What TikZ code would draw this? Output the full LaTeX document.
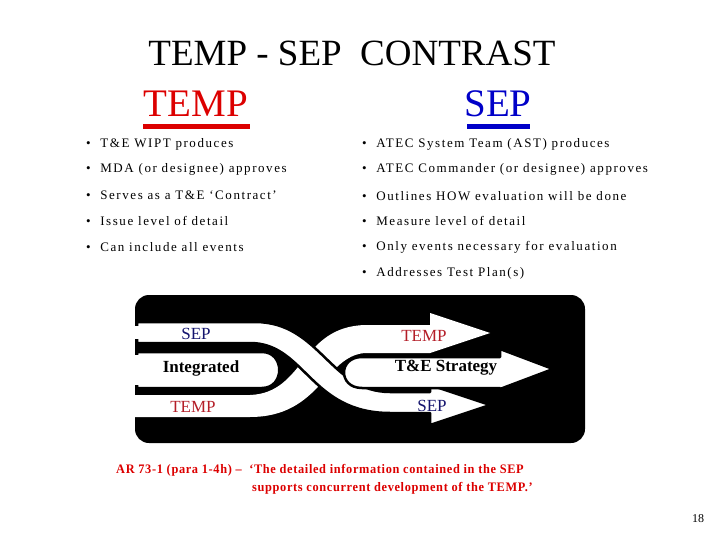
\documentclass[tikz,border=0pt]{standalone}
\usepackage{fontspec}
\setmainfont{Liberation Serif}
\newfontfamily\bulfont[LetterSpace=12]{Liberation Serif}
\newfontfamily\notefont[LetterSpace=5,FakeStretch=0.95]{Liberation Serif}
\definecolor{tred}{RGB}{220,0,0}
\definecolor{tblue}{RGB}{0,0,200}
\definecolor{dred}{RGB}{180,30,40}
\definecolor{dblue}{RGB}{20,20,110}
\begin{document}
\begin{tikzpicture}[x=1pt,y=-1pt,
  bul/.style={anchor=west,font=\bulfont\fontsize{13}{15}\selectfont,inner sep=0},
  band/.style={fill=white,draw=black,line width=2.5pt,line join=round},
  lab/.style={font=\fontsize{17}{19}\selectfont}]
\useasboundingbox (0,0) rectangle (720,540);
\node (title) at (352,53) {\fontsize{37}{40}\selectfont TEMP - SEP\ \ CONTRAST};
\node (ht) at (196,104) {\fontsize{39}{42}\selectfont\color{tred}TEMP};
\node (hs) at (498,104) {\fontsize{39}{42}\selectfont\color{tblue}SEP};
\fill[tred] (143,124) rectangle (250,129);
\fill[tblue] (467,124) rectangle (530,129);
\foreach \t [count=\i] in {T\&E WIPT produces,MDA (or designee) approves,Serves as a T\&E ‘Contract’,Issue level of detail,Can include all events}{
  \node[bul] (l\i) at (86,{144+25.8*(\i-1)}) {\textbullet\ \ \t};}
\foreach \t [count=\i] in {ATEC System Team (AST) produces,ATEC Commander (or designee) approves,Outlines HOW evaluation will be done,Measure level of detail,Only events necessary for evaluation,Addresses Test Plan(s)}{
  \node[bul] (r\i) at (362,{144+25.8*(\i-1)}) {\textbullet\ \ \t};}
% graphic
\fill[black,rounded corners=14pt] (135,295) rectangle (585,443);
\fill[white] (135,395) -- (250,395) .. controls (305,393) and (300,327) .. (365,325) -- (430,325) -- (430,313) -- (490,333) -- (430,353) -- (365,353) .. controls (325,356) and (320,417) .. (250,417) -- (135,417) -- cycle;
\path[band] (137,322) -- (255,322) .. controls (320,322) and (330,392) .. (390,392) -- (430,392) -- (430,385) -- (490,405) -- (430,425) -- (430,413) -- (390,413) .. controls (310,413) and (305,343) .. (250,343) -- (137,343) -- cycle;
\fill[white] (133,326) rectangle (140,339);
\path[band] (137,352) -- (262,352) .. controls (285,352) and (285,388) .. (262,388) -- (137,388) -- cycle;
\fill[white] (133,355) rectangle (140,385);
\path[band] (500,357) -- (500,349) -- (553,369) -- (500,389) -- (500,388) -- (362,388) .. controls (338,388) and (338,357) .. (362,357) -- cycle;
\node[lab,text=dblue] (s1) at (196,334) {SEP};
\node[lab,font=\fontsize{17}{19}\selectfont\bfseries] (i1) at (201,368) {Integrated};
\node[lab,text=dred] (t1) at (193,407) {TEMP};
\node[lab,text=dred] (t2) at (424,336) {TEMP};
\node[lab,font=\fontsize{17}{19}\selectfont\bfseries] (st) at (446,368) {T\&E Strategy};
\node[lab,text=dblue] (s2) at (432,406) {SEP};
\node[anchor=west,font=\notefont\fontsize{13}{15}\selectfont\bfseries,text=tred,inner sep=0] (n1) at (116,470) {AR 73-1 (para 1-4h) –\ \ ‘The detailed information contained in the SEP};
\node[anchor=west,font=\notefont\fontsize{13}{15}\selectfont\bfseries,text=tred,inner sep=0] (n2) at (252,488) {supports concurrent development of the TEMP.’};
\node (pg) at (698,519) {\fontsize{12}{14}\selectfont 18};
\end{tikzpicture}
\end{document}
